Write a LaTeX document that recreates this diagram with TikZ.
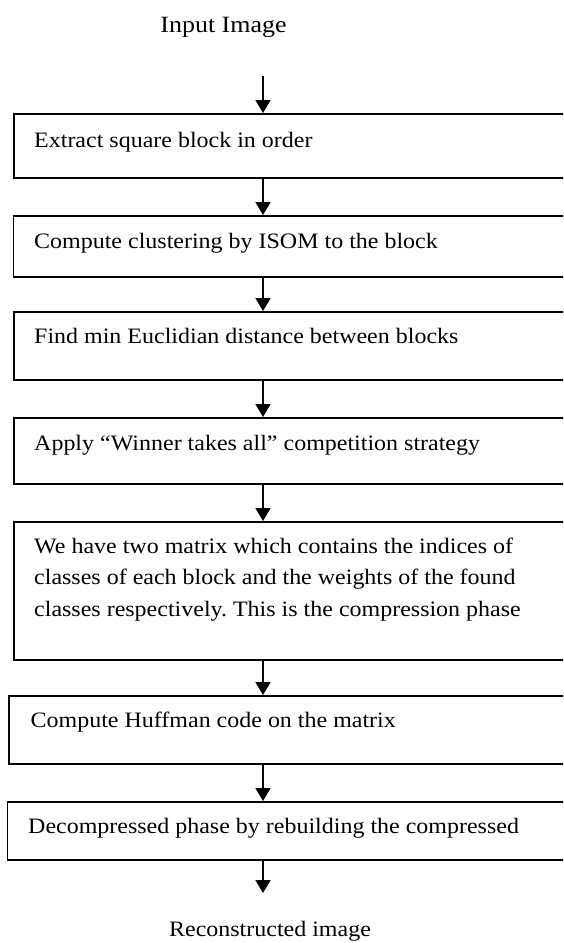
\documentclass[tikz,border=0pt]{standalone}
\usepackage{fontspec}
\setmainfont{Liberation Serif}
\usetikzlibrary{arrows.meta}
\newcommand{\wtxt}[1]{\scalebox{1.09}[1]{#1}}
\begin{document}
\frenchspacing
\begin{tikzpicture}[x=1pt,y=-1pt,
  box/.style={draw=black,line width=1.8pt,rectangle,anchor=north west,minimum width=600pt,inner sep=0pt},
  lbl/.style={anchor=base west,inner sep=0pt,font=\fontsize{22}{26}\selectfont},
  ttl/.style={anchor=base,inner sep=0pt,font=\fontsize{22}{26}\selectfont},
  arr/.style={line width=1.8pt,-{Triangle[width=15pt,length=13pt]}}]
\useasboundingbox (0,0) rectangle (563,943);
\clip (0,0) rectangle (563,943);
\coordinate (ax) at (263,0);
\coordinate (a0) at (263,76);
\coordinate (a7) at (263,893);
\node[ttl] (inp) at (223.5,32) {\scalebox{1.18}[1.06]{Input Image}};
\node[box,minimum height=64pt] (b1) at (13,113) {};
\node[box,minimum height=61pt] (b2) at (12.6,215) {};
\node[box,minimum height=68pt] (b3) at (13,311) {};
\node[box,minimum height=66pt] (b4) at (13,417) {};
\node[box,minimum height=138pt] (b5) at (13,521) {};
\node[box,minimum height=68pt] (b6) at (8,695) {};
\node[box,minimum height=58pt] (b7) at (6.5,801) {};
\node[lbl] (t1) at (34,147) {\wtxt{Extract square block in order}};
\node[lbl] (t2) at (34,248) {\wtxt{Compute clustering by ISOM to the block}};
\node[lbl] (t3) at (34,343) {\wtxt{Find min Euclidian distance between blocks}};
\node[lbl] (t4) at (34,450) {\wtxt{Apply “Winner takes all” competition strategy}};
\node[lbl] (t5a) at (34,553) {\wtxt{We have two matrix which contains the indices of}};
\node[lbl] (t5b) at (34,584.5) {\wtxt{classes of each block and the weights of the found}};
\node[lbl] (t5c) at (34,616) {\wtxt{classes respectively. This is the compression phase}};
\node[lbl] (t6) at (30.5,727) {\wtxt{Compute Huffman code on the matrix}};
\node[lbl] (t7) at (28,833) {\wtxt{Decompressed phase by rebuilding the compressed}};
\node[ttl] (out) at (270,936) {\wtxt{Reconstructed image}};
\draw[arr] (a0) -- (b1.north -| ax);
\draw[arr] (b1.south -| ax) -- (b2.north -| ax);
\draw[arr] (b2.south -| ax) -- (b3.north -| ax);
\draw[arr] (b3.south -| ax) -- (b4.north -| ax);
\draw[arr] (b4.south -| ax) -- (b5.north -| ax);
\draw[arr] (b5.south -| ax) -- (b6.north -| ax);
\draw[arr] (b6.south -| ax) -- (b7.north -| ax);
\draw[arr] (b7.south -| ax) -- (a7);
\end{tikzpicture}
\end{document}
